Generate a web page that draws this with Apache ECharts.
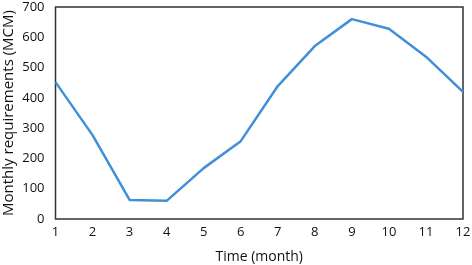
<!DOCTYPE html>
<html><head><meta charset="utf-8">
<script src="https://cdn.jsdelivr.net/npm/echarts@6/dist/echarts.min.js"></script>
<style>html,body{margin:0;padding:0;background:#fff}#c{width:472px;height:265px}</style>
</head><body><div id="c"></div>
<script>
const months = [1,2,3,4,5,6,7,8,9,10,11,12];
const requirements = [452,277,63,60,168,257,439,571,660,628,536,420];
const xTicks = [1,2,3,4,5,6,7,8,9,10,11,12];
const yTicks = [0,100,200,300,400,500,600,700];
const chart = echarts.init(document.getElementById('c'), null, {renderer:'canvas'});
const font = '"Open Sans", "Noto Sans", sans-serif';
chart.setOption({
  animation:false,
  grid:{left:55.5, right:9, top:7, bottom:46, show:true, borderColor:'#333', borderWidth:1.5,
    containLabel:false, outerBoundsMode:'none'},
  xAxis:{type:'value', min:xTicks[0], max:xTicks[xTicks.length-1], interval:1,
    name:'Time (month)', nameLocation:'middle', nameGap:31, nameMoveOverlap:false,
    nameTextStyle:{fontFamily:font, fontSize:14, color:'#111'},
    axisLine:{show:false}, axisTick:{show:false}, splitLine:{show:false},
    axisLabel:{fontFamily:font, fontSize:13, color:'#111', margin:7}},
  yAxis:{type:'value', min:yTicks[0], max:yTicks[yTicks.length-1], interval:100,
    name:'Monthly requirements (MCM)', nameLocation:'middle', nameGap:39, nameMoveOverlap:false,
    nameTextStyle:{fontFamily:font, fontSize:15, color:'#111'},
    axisLine:{show:false}, axisTick:{show:false}, splitLine:{show:false},
    axisLabel:{fontFamily:font, fontSize:13, color:'#111', margin:11}},
  series:[{type:'line', data:months.map((m,i)=>[m,requirements[i]]), symbol:'none',
    lineStyle:{color:'#428fd9', width:2.5}}]
});
</script></body></html>
